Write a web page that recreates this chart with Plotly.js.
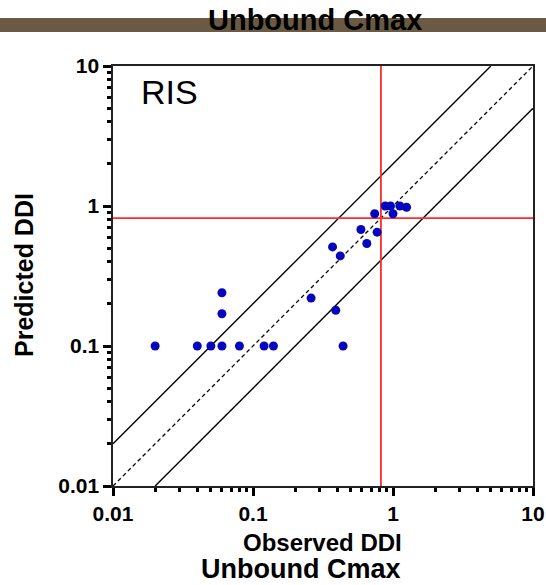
<!DOCTYPE html>
<html><head><meta charset="utf-8">
<script src="https://cdn.plot.ly/plotly-3.0.1.min.js"></script>
<style>html,body{margin:0;padding:0;background:#fff}#chart{width:546px;height:585px}</style>
</head><body><div id="chart"></div>
<script>
// Observed vs predicted DDI (unbound Cmax)
const observedDDI  = [0.02, 0.04, 0.05, 0.06, 0.06, 0.06, 0.08, 0.12, 0.14, 0.26, 0.37, 0.42, 0.39, 0.44, 0.59, 0.65, 0.74, 0.77, 0.88, 0.96, 1.0, 1.12, 1.25];
const predictedDDI = [0.1, 0.1, 0.1, 0.1, 0.17, 0.24, 0.1, 0.1, 0.1, 0.22, 0.51, 0.44, 0.18, 0.1, 0.68, 0.54, 0.88, 0.65, 1.0, 1.0, 0.88, 1.0, 0.98];
// reference lines
const unityX = [0.01, 10], unityY = [0.01, 10];
const upperX = [0.01, 5],  upperY = [0.02, 10];
const lowerX = [0.02, 10], lowerY = [0.01, 5];
const cutoff = 0.82;
const axisRange = [0.01, 10];
const tickVals = [0.01, 0.1, 1, 10];
const tickText = ["0.01", "0.1", "1", "10"];

const FONT = "Liberation Sans, Arial, Helvetica, sans-serif";
const traces = [
  {x: upperX, y: upperY, mode: 'lines', line: {color: '#000', width: 1.4}, hoverinfo: 'skip'},
  {x: lowerX, y: lowerY, mode: 'lines', line: {color: '#000', width: 1.4}, hoverinfo: 'skip'},
  {x: unityX, y: unityY, mode: 'lines', line: {color: '#000', width: 1.3, dash: '4px,3px'}, hoverinfo: 'skip'},
  {x: [cutoff, cutoff], y: axisRange, mode: 'lines', line: {color: '#FF2B2B', width: 1.8}, hoverinfo: 'skip'},
  {x: axisRange, y: [cutoff, cutoff], mode: 'lines', line: {color: '#FF2B2B', width: 1.8}, hoverinfo: 'skip'},
  {x: observedDDI, y: predictedDDI, mode: 'markers', marker: {color: '#0606BE', size: 9}, cliponaxis: false}
];
const axisCommon = {
  type: 'log', range: [Math.log10(axisRange[0]), Math.log10(axisRange[1])],
  tickmode: 'array', tickvals: tickVals, ticktext: tickText,
  ticks: 'outside', ticklen: 8, tickwidth: 3, tickcolor: '#000',
  minor: {ticks: 'outside', ticklen: 4, tickwidth: 3, tickcolor: '#000', dtick: 'D1'},
  showline: true, linecolor: '#222', linewidth: 1.6, mirror: true,
  showgrid: false, zeroline: false,
  tickfont: {family: FONT, size: 21, color: '#000', weight: 'bold'}
};
const layout = {
  width: 546, height: 585,
  margin: {l: 113, r: 13, t: 66, b: 99},
  paper_bgcolor: '#fff', plot_bgcolor: '#fff',
  showlegend: false,
  xaxis: Object.assign({}, axisCommon),
  yaxis: Object.assign({}, axisCommon),
  shapes: [{type: 'rect', xref: 'paper', yref: 'paper', x0: -113/420, x1: 433/420, y0: (486-32)/420, y1: (486-18)/420,
            fillcolor: '#6B5A43', line: {width: 0}, layer: 'below'}],
  annotations: [
    {text: '<b>Unbound Cmax</b>', xref: 'paper', yref: 'paper', x: (315-113)/420, y: (486-20)/420, xanchor: 'center', yanchor: 'middle',
     showarrow: false, font: {family: FONT, size: 29, color: '#000'}},
    {text: 'RIS', xref: 'paper', yref: 'paper', x: (139-113)/420, y: (486-92)/420, xanchor: 'left', yanchor: 'middle',
     showarrow: false, font: {family: FONT, size: 34, color: '#000'}},
    {text: '<b>Observed DDI</b>', xref: 'paper', yref: 'paper', x: (322-113)/420, y: (486-542)/420, xanchor: 'center', yanchor: 'middle',
     showarrow: false, font: {family: FONT, size: 24, color: '#000'}},
    {text: '<b>Unbound Cmax</b>', xref: 'paper', yref: 'paper', x: (301-113)/420, y: (486-569)/420, xanchor: 'center', yanchor: 'middle',
     showarrow: false, font: {family: FONT, size: 27, color: '#000'}},
    {text: '<b>Predicted DDI</b>', xref: 'paper', yref: 'paper', x: (24-113)/420, y: (486-275)/420, xanchor: 'center', yanchor: 'middle',
     textangle: -90, showarrow: false, font: {family: FONT, size: 25, color: '#000'}}
  ]
};
Plotly.newPlot('chart', traces, layout, {displayModeBar: false, staticPlot: true});
</script></body></html>
